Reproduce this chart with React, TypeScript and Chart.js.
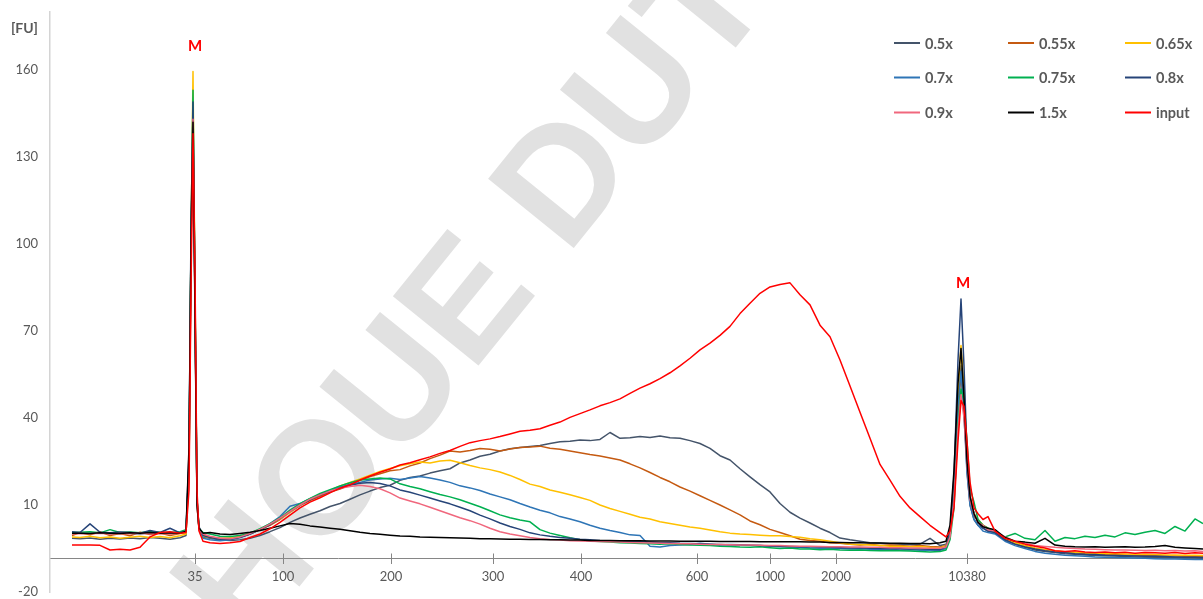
import React, { useEffect, useRef } from 'react';
import { Chart, registerables } from 'chart.js';

Chart.register(...registerables);

// Shared sampling index of the electropherogram (run time index)
const sizeIndex = [
  22, 30, 40, 50, 60, 70, 80, 90, 100, 110, 120, 130, 136,
  139, 141, 143, 145, 147, 149,
  153, 160, 170, 180, 190, 200, 210, 220, 230, 240,
  250, 260, 270, 280, 290, 300, 310, 320, 330, 340,
  350, 360, 370, 380, 390, 400, 410, 420, 430, 440,
  450, 460, 470, 480, 490, 500, 510, 520, 530, 540,
  550, 560, 570, 580, 590, 600, 610, 620, 630, 640,
  650, 660, 670, 680, 690, 700, 710, 720, 730, 740,
  750, 760, 770, 780, 790, 800, 810, 820, 830, 840,
  850, 860, 870, 880, 890,
  896, 900, 904, 908, 911, 914, 917, 920, 924, 928, 933, 938,
  945, 955, 965, 975, 985, 995, 1005, 1015, 1025, 1035, 1045,
  1055, 1065, 1075, 1085, 1095, 1105, 1115, 1125, 1135, 1145, 1153,
];

const s05 = [
  -1.5, -1.6, -1.4, -1.8, -1.5, -1.7, -1.4, -1.6, -1.2, -1.5, -1.8, -1.3, -0.5,
  25, 100, 147, 80, 12, 2,
  -1, -1.5, -2, -2.2, -2, -1.5, -0.5, 0.8, 2.2, 4,
  5.5, 6.8, 8, 9.5, 10.5, 12, 13.5, 14.8, 16, 16.8,
  18.5, 19.5, 20, 21, 21.8, 22.5, 24.5, 25.5, 26.8, 27.5,
  28.6, 29.4, 29.8, 30.2, 30.5, 31.2, 31.8, 32, 32.4, 32.2,
  32.6, 35, 33, 33.2, 33.6, 33.3, 33.8, 33.2, 33, 32.2,
  31.2, 29.5, 27, 25.5, 22.5, 19.7, 17, 14.5, 10.5, 7.5,
  5.5, 3.8, 2, 0.5, -1.4, -2, -2.5, -3, -3.2, -3.4,
  -3.5, -3.6, -3.5, -1.5, -4,
  -3.5, 0, 15, 46, 58, 44, 22, 10, 5, 3, 2, 1,
  0.5, -2, -3.5, -4.5, -5.5, -6, -6.4, -6.8, -7, -7.2, -7.4,
  -7.5, -7.6, -7.8, -7.9, -8, -8, -8.1, -8.2, -8.3, -8.3, -8.4,
];

const s055 = [
  -0.5, 0.5, -0.3, 0.8, -0.5, 0.2, -0.6, 0.6, -0.2, 0.3, -0.5, 0.2, 0.5,
  22, 95, 145, 78, 10, 1.5,
  -0.5, -1, -1.5, -1.5, -1, 0, 1.5, 3, 5, 7.5,
  9.8, 11.5, 13, 14.5, 15.5, 17, 18.5, 19.8, 20.8, 21.8,
  22.2, 23.5, 24.5, 26, 27.2, 28.6, 28.3, 28.8, 29.5, 29.2,
  28.6, 29.3, 29.8, 30, 30.3, 29.6, 29.2, 28.6, 28, 27.4,
  26.9, 26.2, 25.5, 24.2, 22.8, 21.2, 19.5, 18, 16.2, 14.8,
  13.2, 11.6, 10, 8.3, 6.6, 4.5, 3.2, 1.6, 0.5, -0.6,
  -1.8, -2.2, -2.5, -3, -3.2, -3.5, -3.8, -3.5, -4, -3.8,
  -4, -4.2, -4, -4.3, -4.5,
  -4, -1, 13, 42, 55, 43, 24, 12, 6, 5, 3, 2,
  1, -1.5, -3, -4, -5, -5.5, -6, -6.3, -6.5, -6.7, -6.9,
  -7, -7.1, -7.2, -7.3, -7.4, -7.5, -7.6, -7.6, -7.7, -7.8, -7.8,
];

const s065 = [
  -1, -1.2, -0.8, -1.3, -1, -1.5, -1.1, -0.8, -1.2, -0.9, -1.3, -0.6, 0,
  20, 100, 159.5, 85, 12, 2,
  -0.8, -1.2, -1.6, -1.4, -0.8, 0.3, 1.6, 3.3, 5.2, 7.5,
  10, 12, 13.6, 15, 16.6, 17.8, 19, 20.3, 21.6, 22.6,
  23.5, 24.2, 24.8, 24.5, 25.2, 25.4, 24.6, 23.6, 22.8, 22.2,
  21.4, 20.2, 18.8, 17.2, 16.4, 15.2, 14.4, 13.5, 12.6, 11.6,
  10, 8.8, 7.8, 6.8, 5.8, 5.2, 4.2, 3.6, 3, 2.4,
  2, 1.4, 0.8, 0.3, 0, -0.2, -0.4, -0.6, -0.6, -0.9,
  -1.1, -1.6, -2, -2.5, -3, -3.5, -3.6, -3.8, -4, -4.2,
  -4.2, -4.4, -4.3, -4.6, -4.8,
  -4, 0, 15, 48, 65, 50, 27, 13, 7, 5, 3, 2,
  1, -1.5, -3, -4, -4.8, -5.4, -5.8, -6.1, -6.3, -6.5, -6.6,
  -6.7, -6.8, -6.9, -7, -7, -7.1, -7.2, -7.2, -7.3, -7.3, -7.4,
];

const s07 = [
  0.3, 0.4, 0.2, 0.5, 0.1, 0.4, 0.3, 0, 0.4, 0.2, 0.5, 0.3, 1,
  24, 98, 146, 82, 11, 2,
  -1.5, -2, -2.3, -2, -1.2, 0, 1.6, 3.6, 6, 9.6,
  10.5, 12.2, 13.6, 15, 16.2, 17.2, 17.8, 18.6, 19, 19.2,
  18.8, 19.3, 19.8, 19.3, 18.6, 17.8, 16.6, 15.9, 15, 13.8,
  12.8, 11.8, 10.5, 9.3, 8.2, 7.3, 6, 5.2, 4.2, 3,
  2, 1.2, 0.5, -0.3, -0.5, -4.2, -4.5, -4, -3.8, -3.6,
  -3.2, -3.5, -3.8, -3.6, -3.7, -3.9, -4, -4.2, -4.4, -4.5,
  -4.6, -4.8, -4.9, -5, -5, -5.2, -5.1, -5.3, -5.4, -5.3,
  -5.5, -5.4, -5.6, -5.5, -5.6,
  -5, -1, 13, 44, 56, 41, 21, 10, 5, 3, 1, 0.5,
  0, -2.5, -4, -5, -6, -6.6, -7, -7.3, -7.5, -7.7, -7.9,
  -8, -8.1, -8.2, -8.3, -8.4, -8.5, -8.6, -8.6, -8.7, -8.8, -8.8,
];

const s075 = [
  0.5, 0.6, 0.8, 0.4, 1.5, 0.5, 0.7, 0.4, 0.9, 0.6, 0.5, 0.8, 1.5,
  22, 102, 153, 84, 12, 2,
  0.5, 0, -0.8, -0.9, -0.5, 0.3, 1.8, 3.6, 5.6, 8.2,
  10.5, 12.3, 14, 15.3, 16.6, 17.7, 18.6, 19, 19.3, 19,
  17.3, 16.4, 15.6, 14.6, 13.6, 12.8, 11.8, 10.6, 9.4, 8,
  6.6, 5.6, 4.8, 4.2, 1.5, 0.3, -0.5, -1.3, -2, -2.4,
  -2.6, -2.8, -3, -3.1, -3.3, -3.4, -3.5, -3.4, -3.6, -3.8,
  -3.9, -4, -4.2, -4.3, -4.5, -4.6, -4.4, -4.7, -5, -4.8,
  -5.2, -5.2, -5.4, -5.3, -5.5, -5.6, -5.5, -5.7, -5.8, -5.7,
  -5.8, -5.9, -6, -6.2, -6,
  -5.5, -2, 9, 38, 50, 46, 32, 16, 11, 5, 3, 2,
  0.5, -1, 0.2, -1.5, -2, 1.2, -2.5, -1.2, -1.6, -0.8, -1.2,
  -0.4, -1, 0.4, -0.2, 0.6, 1.2, 0.2, 2.6, 1, 5.2, 3.6,
];

const s08 = [
  0.8, 0.5, 3.5, 0.6, 0.4, 0.7, 0.5, 0.3, 1.2, 0.5, 2, 0.4, 1,
  28, 105, 149, 80, 12, 2.5,
  -0.5, -1.2, -1.8, -1.8, -1.2, 0, 1.5, 3.2, 5.4, 7.8,
  10, 11.8, 13.4, 14.6, 15.8, 16.8, 17.5, 17.8, 17.4, 16.6,
  15.2, 14.4, 13.4, 12.4, 11.4, 10.4, 9.2, 8, 6.5, 5.2,
  3.8, 2.6, 1.6, 0.4, -0.3, -0.8, -1.2, -1.5, -1.8, -2,
  -2.2, -2.3, -2.4, -2.6, -2.7, -2.8, -3, -3, -3.2, -3.3,
  -3.4, -3.5, -3.6, -3.7, -3.8, -3.9, -4, -4.1, -4.2, -4.3,
  -4.4, -4.4, -4.5, -4.6, -4.7, -4.8, -4.8, -4.9, -5, -5,
  -5.1, -5.2, -5.2, -5.3, -5.4,
  -4.5, 1, 20, 60, 81, 58, 28, 13, 7, 4, 2, 1,
  0.5, -2, -3.5, -4.5, -5.2, -5.8, -6.2, -6.5, -6.8, -7, -7.1,
  -7.3, -7.4, -7.5, -7.6, -7.7, -7.7, -7.8, -7.9, -8, -8, -8.1,
];

const s09 = [
  0, 0.2, 0.1, 0.3, 0, 0.2, 0.1, 0.3, 0.1, 0.2, 0, 0.3, 0.8,
  20, 92, 143, 78, 10, 1.5,
  0, -0.8, -1.5, -1.6, -1, 0.2, 1.6, 3.4, 5.5, 7.8,
  10, 12, 13.5, 14.8, 15.8, 16.4, 16.8, 16.4, 15.6, 14.2,
  12.4, 11.4, 10.4, 9.2, 8, 6.8, 5.6, 4.6, 3.4, 2,
  0.8, 0, -0.6, -1.2, -1.6, -1.9, -2.1, -2.3, -2.4, -2.5,
  -2.6, -2.7, -2.8, -2.9, -3, -3.1, -3.2, -3.3, -3.4, -3.4,
  -3.5, -3.6, -3.6, -3.7, -3.8, -3.8, -3.9, -4, -4, -4.1,
  -4.2, -4.2, -4.3, -4.4, -4.4, -4.5, -4.5, -4.6, -4.6, -4.7,
  -4.7, -4.8, -4.8, -4.9, -4.9,
  -4.5, -1, 11, 36, 48, 40, 24, 12, 7, 4, 3, 1.5,
  1, -1, -2.5, -3.2, -4, -4.3, -4.6, -4.8, -5, -5.2, -5.3,
  -5.4, -5.5, -5.5, -5.6, -5.7, -5.6, -5.8, -5.7, -5.9, -5.8, -6,
];

const s15 = [
  0.3, 0.3, 0.2, 0.4, 0.3, 0.2, 0.4, 0.3, 0.5, 0.3, 0.4, 0.3, 1,
  30, 100, 142, 75, 10, 2,
  0.3, 0.5, 0, -0.2, 0.2, 0.6, 1.2, 2, 2.8, 3.6,
  3.4, 2.8, 2.4, 2, 1.6, 1.1, 0.6, 0.2, -0.1, -0.4,
  -0.7, -0.8, -1, -1.1, -1.2, -1.3, -1.4, -1.5, -1.6, -1.6,
  -1.7, -1.8, -1.8, -1.9, -1.9, -2, -2, -2.1, -2.1, -2.2,
  -2.2, -2.2, -2.3, -2.3, -2.3, -2.4, -2.4, -2.4, -2.5, -2.5,
  -2.5, -2.5, -2.6, -2.6, -2.6, -2.6, -2.7, -2.7, -2.7, -2.7,
  -2.7, -2.8, -2.8, -2.9, -2.9, -3, -3, -3.1, -3.1, -3.2,
  -3.2, -3.3, -3.3, -3.4, -3,
  -2.5, 3, 22, 52, 64, 47, 25, 13, 7, 4, 2.5, 2,
  1.5, -1.2, -2.5, -2.8, -3.2, -1.5, -3.8, -4.2, -4.4, -4.5, -4.4,
  -4.6, -4.5, -4.4, -4.6, -4.5, -4.3, -4, -4.6, -4.8, -5, -5.2,
];

const sInput = [
  -3.8, -3.8, -3.8, -3.9, -5.5, -5.3, -5.5, -4.6, -1, 0.5, 0.8, 0.3, 0.5,
  15, 85, 138, 90, 15, 1,
  -2.5, -3, -3.3, -3, -2.6, -1.2, 0, 1.8, 4, 6.5,
  9, 11, 12.5, 14.2, 15.8, 17, 18.6, 20, 21.3, 22.4,
  23.8, 24.6, 25.6, 26.6, 27.8, 28.8, 30.2, 31.5, 32.2, 32.8,
  33.6, 34.5, 35.4, 35.8, 36.3, 37.5, 38.6, 40.2, 41.5, 42.8,
  44.2, 45.3, 46.6, 48.5, 50.3, 51.8, 53.6, 55.6, 58, 60.6,
  63.5, 65.8, 68.5, 71.6, 76, 79.6, 83, 85.2, 86, 86.6,
  82.5, 79, 72, 68, 60, 51, 42, 33, 24, 18.6,
  13, 9, 6, 3, 0.5,
  -1, 1, 9, 32, 46, 44, 32, 18, 9, 7, 5, 6,
  1, -1.5, -2.5, -3.5, -4.2, -4.8, -5.8, -6, -5.8, -6.2, -6.4,
  -6.2, -6.5, -6.3, -6.6, -6.4, -6.5, -6.6, -6.4, -6.7, -6.5, -6.6,
];

const seriesLabels = ['0.5x', '0.55x', '0.65x', '0.7x', '0.75x', '0.8x', '0.9x', '1.5x', 'input'];
const seriesColors = ['#44546a', '#c55a11', '#ffc000', '#2e75b6', '#00b050', '#264478', '#f0677d', '#000000', '#ff0000'];
const seriesValues = [s05, s055, s065, s07, s075, s08, s09, s15, sInput];

const xTickIndex = [145, 233, 341, 443, 531, 647, 720, 786, 917];
const xTickLabels = ['35', '100', '200', '300', '400', '600', '1000', '2000', '10380'];
const yTickValues = [-20, 10, 40, 70, 100, 130, 160];
const markerIndex = [143, 911];
const markerGap = [25, 16];
const markerText = 'M';
const yUnitLabel = '[FU]';
const watermarkText = 'HOUE DUTY';

const FONT = "Lato, 'Open Sans', sans-serif";
const AXIS_CROSS = -8.3;
const TEXT_GRAY = '#595959';

export default function App() {
  const canvasRef = useRef<HTMLCanvasElement | null>(null);

  useEffect(() => {
    const canvas = canvasRef.current;
    if (!canvas) return;

    const watermark = {
      id: 'watermark',
      beforeDraw(chart: any) {
        const ctx = chart.ctx;
        ctx.save();
        ctx.translate(248, 650);
        ctx.rotate((-51 * Math.PI) / 180);
        ctx.font = "bold 160px 'Liberation Sans', Arial, sans-serif";
        ctx.fillStyle = '#e1e1e1';
        ctx.textBaseline = 'alphabetic';
        ctx.textAlign = 'left';
        ctx.fillText(watermarkText, 0, 0);
        ctx.restore();
      },
    };

    const decor = {
      id: 'decor',
      afterDraw(chart: any) {
        const ctx = chart.ctx;
        const xs = chart.scales.x;
        const ys = chart.scales.y;
        const area = chart.chartArea;
        ctx.save();
        const y0 = Math.round(ys.getPixelForValue(AXIS_CROSS)) + 0.5;
        ctx.strokeStyle = '#868686';
        ctx.lineWidth = 1;
        xs.ticks.forEach((t: any) => {
          const x = Math.round(xs.getPixelForValue(t.value)) + 0.5;
          ctx.beginPath();
          ctx.moveTo(x, y0 - 5);
          ctx.lineTo(x, y0);
          ctx.stroke();
        });
        ctx.fillStyle = TEXT_GRAY;
        ctx.font = `bold 14px ${FONT}`;
        ctx.textAlign = 'right';
        ctx.textBaseline = 'middle';
        ctx.fillText(yUnitLabel, area.left - 12, 28);
        ctx.fillStyle = '#ff0000';
        ctx.font = `bold 15px ${FONT}`;
        ctx.textAlign = 'center';
        markerIndex.forEach((m, k) => {
          const j = sizeIndex.indexOf(m);
          let maxV = -Infinity;
          seriesValues.forEach((s) => { if (s[j] > maxV) maxV = s[j]; });
          const x = xs.getPixelForValue(m) + 2;
          const y = ys.getPixelForValue(maxV) - markerGap[k];
          ctx.fillText(markerText, x, y);
        });
        const colX = [area.right - 309, area.right - 195, area.right - 78];
        const rowY = [43, 77.5, 112.5];
        chart.data.datasets.forEach((ds: any, i: number) => {
          const c = i % 3;
          const r = Math.floor(i / 3);
          const lx = colX[c];
          const ly = rowY[r];
          ctx.strokeStyle = ds.borderColor;
          ctx.lineWidth = 2;
          ctx.beginPath();
          ctx.moveTo(lx, ly);
          ctx.lineTo(lx + 26, ly);
          ctx.stroke();
          ctx.fillStyle = TEXT_GRAY;
          ctx.font = `bold 14.5px ${FONT}`;
          ctx.textAlign = 'left';
          ctx.textBaseline = 'middle';
          ctx.fillText(ds.label, lx + 31, ly + 1);
        });
        ctx.restore();
      },
    };

    const chart = new Chart(canvas, {
      type: 'line',
      data: {
        datasets: seriesValues.map((vals, i) => ({
          label: seriesLabels[i],
          data: sizeIndex.map((x, j) => ({ x, y: vals[j] })),
          borderColor: seriesColors[i],
          backgroundColor: seriesColors[i],
          borderWidth: 1.5,
          pointRadius: 0,
          tension: 0,
          fill: false,
          order: seriesValues.length - 1 - i,
        })),
      },
      options: {
        animation: false,
        responsive: true,
        maintainAspectRatio: false,
        layout: { padding: { left: 0, right: 0, top: 12, bottom: 7 } },
        plugins: {
          legend: { display: false },
          tooltip: { enabled: false },
          title: { display: false },
        },
        elements: { line: { borderJoinStyle: 'round' } },
        scales: {
          x: {
            type: 'linear',
            min: 0,
            max: 1153,
            position: { y: AXIS_CROSS } as any,
            grid: { display: true, drawOnChartArea: false, drawTicks: true, tickLength: 5, color: '#868686' },
            border: { display: true, color: '#868686', width: 1 },
            ticks: {
              autoSkip: false,
              maxRotation: 0,
              padding: 6,
              color: TEXT_GRAY,
              font: { family: FONT, size: 13 },
              callback: (_v: any, index: number) => xTickLabels[index],
            },
            afterBuildTicks: (s: any) => {
              s.ticks = xTickIndex.map((v) => ({ value: v }));
            },
            afterFit: (s: any) => {
              s.paddingLeft = 0;
              s.paddingRight = 0;
            },
          } as any,
          y: {
            type: 'linear',
            min: -20,
            max: 180,
            position: 'left',
            grid: { display: false, drawTicks: false },
            border: { display: true, color: '#d4d4d4', width: 1.5 },
            ticks: {
              color: TEXT_GRAY,
              padding: 12,
              font: { family: FONT, size: 13 },
            },
            afterBuildTicks: (s: any) => {
              s.ticks = yTickValues.map((v) => ({ value: v }));
            },
            afterFit: (s: any) => {
              s.width = 50;
              s.paddingTop = 0;
              s.paddingBottom = 0;
            },
          } as any,
        },
      },
      plugins: [watermark, decor],
    });

    return () => chart.destroy();
  }, []);

  return (
    <div style={{ position: 'fixed', left: 0, top: 0, width: 1203, height: 599, background: '#fff' }}>
      <canvas ref={canvasRef} />
    </div>
  );
}
